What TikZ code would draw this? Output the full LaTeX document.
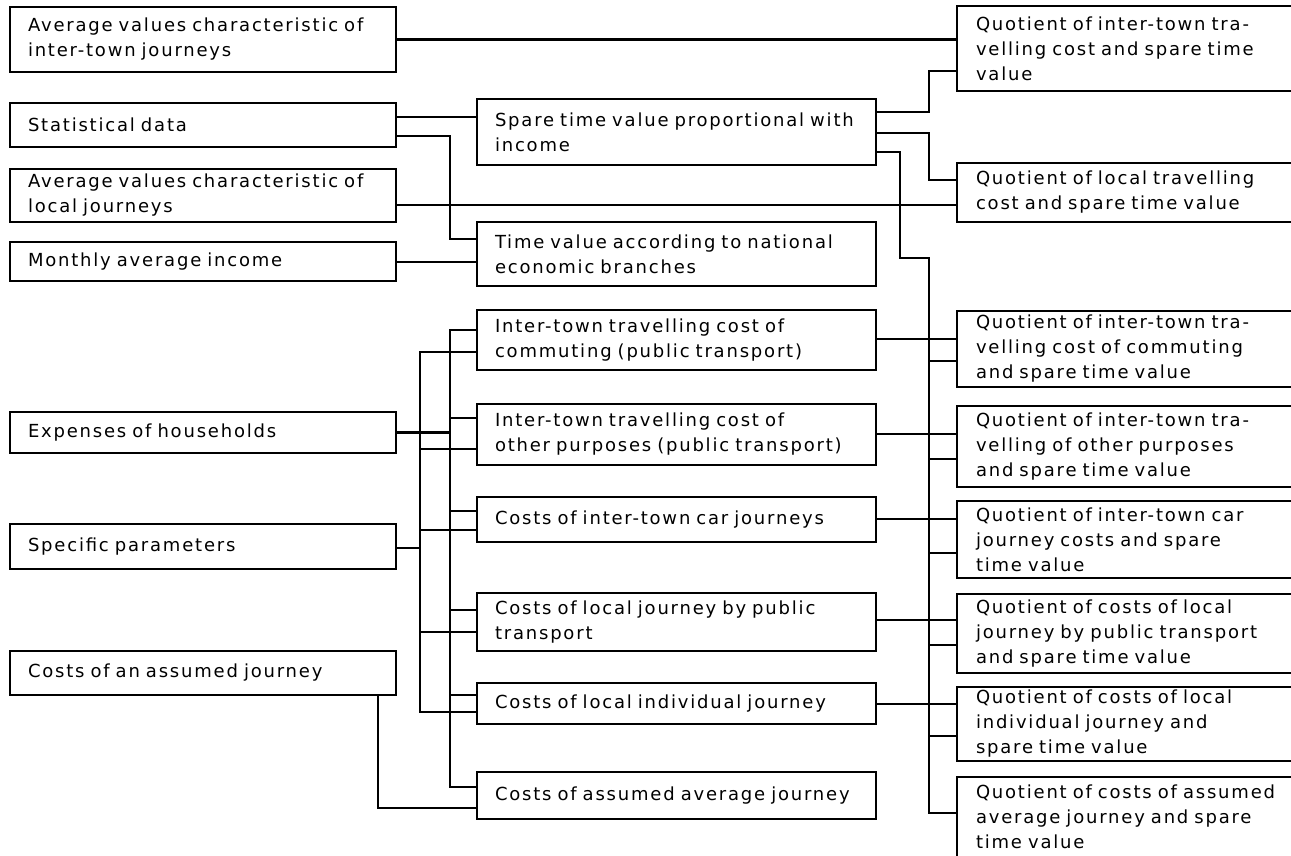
\documentclass[tikz,border=0pt]{standalone}
\usepackage{fontspec}
\newfontfamily\bxfamily{DejaVu Sans}[LetterSpace=10]
\newcommand\bxfont{\bxfamily\fontsize{18}{25}\selectfont}
\begin{document}
\begin{tikzpicture}[x=1pt,y=-1pt,
  box/.style={draw, line width=1.4pt, anchor=north west, align=left, inner ysep=0pt, outer sep=0pt, font=\bxfont},
  lbox/.style={box, inner xsep=18pt, text width=350pt},
  mbox/.style={box, inner xsep=18pt, text width=363pt},
  qbox/.style={box, inner xsep=19pt, text width=400pt},
  wire/.style={line width=2.4pt, line cap=rect}]
\useasboundingbox (0,0) rectangle (1291,855);
\clip (0,0) rectangle (1291,855);
% left column
\node[lbox, minimum height=65pt] (L1) at (10,7) {Average values characteristic of\\inter-town journeys};
\node[lbox, minimum height=44pt] (L2) at (10,103) {Statistical data};
\node[lbox, minimum height=53pt] (L3) at (10,169) {Average values characteristic of\\local journeys};
\node[lbox, minimum height=39pt] (L4) at (10,242) {Monthly average income};
\node[lbox, minimum height=41pt] (L5) at (10,412) {Expenses of households};
\node[lbox, minimum height=45pt] (L6) at (10,524) {Specific parameters};
\node[lbox, minimum height=44pt] (L7) at (10,651) {Costs of an assumed journey};
% middle column
\node[mbox, minimum height=66pt] (M1) at (477,99) {Spare time value proportional with\\income};
\node[mbox, minimum height=64pt] (M2) at (477,222) {Time value according to national\\economic branches};
\node[mbox, minimum height=60pt] (M3) at (477,310) {Inter-town travelling cost of\\commuting (public transport)};
\node[mbox, minimum height=61pt] (M4) at (477,404) {Inter-town travelling cost of\\other purposes (public transport)};
\node[mbox, minimum height=45pt] (M5) at (477,497) {Costs of inter-town car journeys};
\node[mbox, minimum height=58pt] (M6) at (477,593) {Costs of local journey by public\\transport};
\node[mbox, minimum height=41pt] (M7) at (477,683) {Costs of local individual journey};
\node[mbox, minimum height=47pt] (M8) at (477,772) {Costs of assumed average journey};
% right column
\node[qbox, minimum height=85pt] (Q1) at (957,6) {Quotient of inter-town tra-\\velling cost and spare time\\value};
\node[qbox, minimum height=59pt] (Q2) at (957,163) {Quotient of local travelling\\cost and spare time value};
\node[qbox, minimum height=76pt] (Q3) at (957,311) {Quotient of inter-town tra-\\velling cost of commuting\\and spare time value};
\node[qbox, minimum height=81pt] (Q4) at (957,406) {Quotient of inter-town tra-\\velling of other purposes\\and spare time value};
\node[qbox, minimum height=77pt] (Q5) at (957,501) {Quotient of inter-town car\\journey costs and spare\\time value};
\node[qbox, minimum height=79pt] (Q6) at (957,594) {Quotient of costs of local\\journey by public transport\\and spare time value};
\node[qbox, minimum height=74pt] (Q7) at (957,687) {Quotient of costs of local\\individual journey and\\spare time value};
\node[qbox, minimum height=80pt] (Q8) at (957,777) {Quotient of costs of assumed\\average journey and spare\\time value};
% bus coordinates
\coordinate (sv) at (450,0);
\coordinate (ib) at (450,0);
\coordinate (ob) at (420,0);
\coordinate (rv) at (900,0);
\coordinate (rb) at (929,0);
\coordinate (av) at (378,0);
% top connectors
\draw[wire] (L1.east) -- (L1.east -| Q1.west);
\draw[wire] (L2.east |- 0,117) -- (M1.west |- 0,117);
\draw[wire] (L2.east |- 0,136) -- (sv |- 0,136) -- (sv |- 0,239) -- (M2.west |- 0,239);
\draw[wire] (L3.east |- 0,205) -- (Q2.west |- 0,205);
\draw[wire] (L4.east |- 0,262) -- (M2.west |- 0,262);
\draw[wire] (M1.east |- 0,112) -- (rb |- 0,112) -- (rb |- 0,71) -- (Q1.west |- 0,71);
\draw[wire] (M1.east |- 0,133) -- (rb |- 0,133) -- (rb |- 0,180) -- (Q2.west |- 0,180);
\draw[wire] (M1.east |- 0,152) -- (rv |- 0,152) -- (rv |- 0,258) -- (rb |- 0,258) -- (rb |- 0,813) -- (Q8.west |- 0,813);
% right bus branches
\draw[wire] (M3.east |- 0,339) -- (Q3.west |- 0,339);
\draw[wire] (rb |- 0,361) -- (Q3.west |- 0,361);
\draw[wire] (M4.east |- 0,434) -- (Q4.west |- 0,434);
\draw[wire] (rb |- 0,459) -- (Q4.west |- 0,459);
\draw[wire] (M5.east |- 0,519) -- (Q5.west |- 0,519);
\draw[wire] (rb |- 0,553) -- (Q5.west |- 0,553);
\draw[wire] (M6.east |- 0,620) -- (Q6.west |- 0,620);
\draw[wire] (rb |- 0,645) -- (Q6.west |- 0,645);
\draw[wire] (M7.east |- 0,704) -- (Q7.west |- 0,704);
\draw[wire] (rb |- 0,736) -- (Q7.west |- 0,736);
% left buses
\draw[wire] (M3.west |- 0,330) -- (ib |- 0,330) -- (ib |- 0,787) -- (M8.west |- 0,787);
\draw[wire] (M3.west |- 0,352) -- (ob |- 0,352) -- (ob |- 0,712) -- (M7.west |- 0,712);
\draw[wire] (L5.east) -- (L5.east -| ib);
\draw[wire] (L6.east |- 0,548) -- (ob |- 0,548);
\draw[wire] (ib |- 0,418) -- (M4.west |- 0,418);
\draw[wire] (ob |- 0,449) -- (M4.west |- 0,449);
\draw[wire] (ib |- 0,511) -- (M5.west |- 0,511);
\draw[wire] (ob |- 0,530) -- (M5.west |- 0,530);
\draw[wire] (ib |- 0,610) -- (M6.west |- 0,610);
\draw[wire] (ob |- 0,632) -- (M6.west |- 0,632);
\draw[wire] (ib |- 0,695) -- (M7.west |- 0,695);
\draw[wire] (av |- L7.south) -- (av |- 0,808) -- (M8.west |- 0,808);
\end{tikzpicture}
\end{document}
